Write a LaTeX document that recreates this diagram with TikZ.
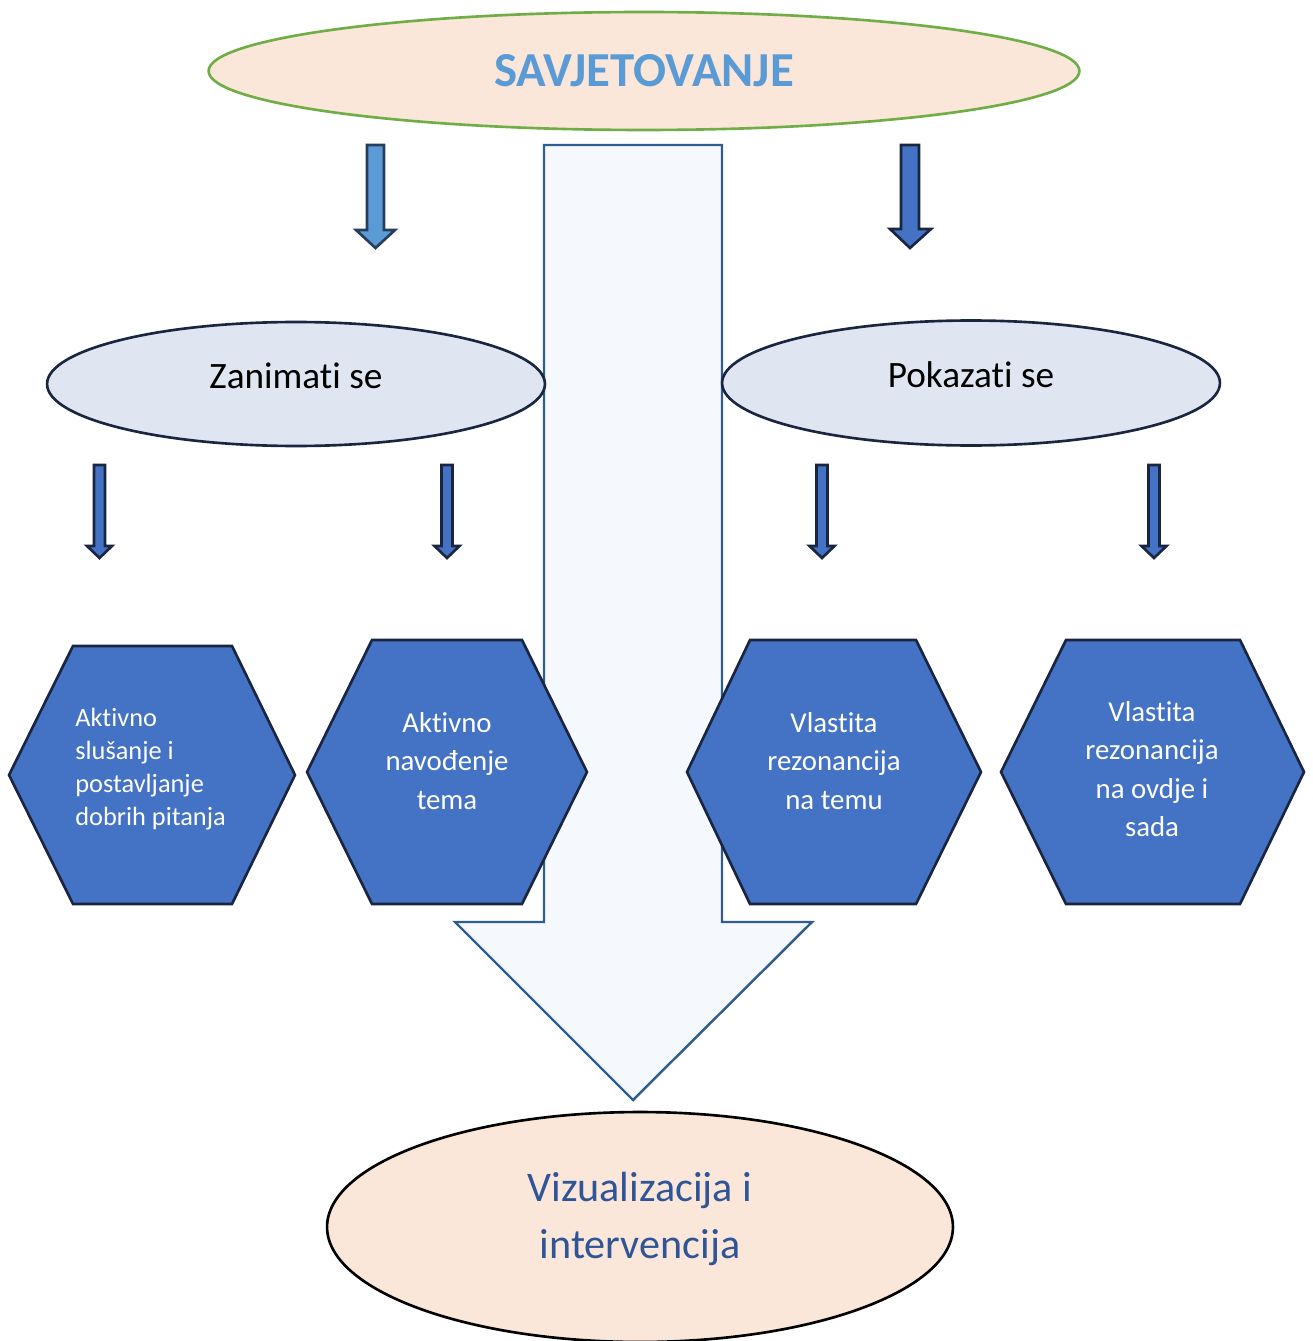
\documentclass[tikz,border=0pt]{standalone}
\usepackage{fontspec}
\setmainfont{Carlito}[Ligatures=NoCommon]
\usetikzlibrary{shapes.geometric}
\definecolor{peach}{HTML}{FBE7DA}
\definecolor{leafgreen}{HTML}{70AD47}
\definecolor{titleblue}{HTML}{5B9BD5}
\definecolor{paleblue}{HTML}{DFE6F1}
\definecolor{hexblue}{HTML}{4472C4}
\definecolor{darknavy}{HTML}{1A2540}
\definecolor{arrowedge}{HTML}{2E5E91}
\definecolor{arrowfill}{HTML}{F5F8FC}
\definecolor{textblue}{HTML}{2F5597}
\begin{document}
\begin{tikzpicture}[x=0.02cm, y=-0.02cm]
    \tikzstyle{bigarrow} = [draw=arrowedge, fill=arrowfill, line width=1.4pt]
    \tikzstyle{smallarrow} = [draw=darknavy, fill=hexblue, line width=1.5pt]
    \tikzstyle{hex} = [draw=darknavy, fill=hexblue, line width=1.5pt]
    \tikzstyle{oval} = [ellipse, inner sep=0pt, line width=1.5pt]
    \tikzstyle{hextext} = [text=white, align=center, inner sep=0pt,
        font=\fontsize{16.4}{21.8}\selectfont]

    \useasboundingbox (0,0) rectangle (1312,1341);

    % big arrow behind everything
    \draw[bigarrow] (544,145) -- (722,145) -- (722,922) -- (812,922)
        -- (633,1100) -- (455,922) -- (544,922) -- cycle;

    \node(savjetovanje) [oval, draw=leafgreen, fill=peach,
        minimum width=17.42cm, minimum height=2.36cm]
        at (644,71)
        {};
    \node(savjetovanjetext) [text=titleblue,
        font=\bfseries\fontsize{27.8}{32}\selectfont]
        at (644,71)
        {SAVJETOVANJE};

    \node(zanimati) [oval, draw=darknavy, fill=paleblue,
        minimum width=9.96cm, minimum height=2.48cm]
        at (296,384)
        {};
    \node(zanimatitext) [font=\fontsize{21.2}{25}\selectfont]
        at (296,376)
        {Zanimati se};
    \node(pokazati) [oval, draw=darknavy, fill=paleblue,
        minimum width=9.96cm, minimum height=2.5cm]
        at (971,383)
        {};
    \node(pokazatitext) [font=\fontsize{21.2}{25}\selectfont]
        at (971,375)
        {Pokazati se};

    % block arrows
    \draw[smallarrow, fill=titleblue, draw=darknavy!80!titleblue]
        (367,145) -- (384,145) -- (384,230) -- (395,230)
        -- (375.5,248) -- (356,230) -- (367,230) -- cycle;
    \draw[smallarrow] (901,145) -- (919,145) -- (919,229) -- (931,229)
        -- (910,248) -- (890,229) -- (901,229) -- cycle;

    \draw[smallarrow] (94,465) -- (105,465) -- (105,546) -- (112,546)
        -- (99.5,558) -- (87,546) -- (94,546) -- cycle;
    \draw[smallarrow] (441.5,465) -- (452.5,465) -- (452.5,546) -- (459.5,546)
        -- (447,558) -- (434.5,546) -- (441.5,546) -- cycle;
    \draw[smallarrow] (816.5,465) -- (827.5,465) -- (827.5,546) -- (834.5,546)
        -- (822,558) -- (809.5,546) -- (816.5,546) -- cycle;
    \draw[smallarrow] (1148.5,465) -- (1159.5,465) -- (1159.5,546) -- (1166.5,546)
        -- (1154,558) -- (1141.5,546) -- (1148.5,546) -- cycle;

    % hexagons
    \draw[hex] (9,775) -- (73,646) -- (232,646) -- (295,775)
        -- (232,904) -- (73,904) -- cycle;
    \draw[hex] (307,772) -- (372,640) -- (522,640) -- (587,772)
        -- (522,904) -- (372,904) -- cycle;
    \draw[hex] (687,772) -- (750,640) -- (916,640) -- (981,772)
        -- (916,904) -- (750,904) -- cycle;
    \draw[hex] (1001,772) -- (1066,640) -- (1240,640) -- (1304,772)
        -- (1240,904) -- (1066,904) -- cycle;

    \node(slusanje) [hextext, align=left,
        font=\fontsize{15}{18.7}\selectfont]
        at (75,769) [anchor=west]
        {Aktivno\\ slušanje i\\ postavljanje\\ dobrih pitanja};
    \node(navodenje) [hextext]
        at (447,761)
        {Aktivno\\ navođenje\\ tema};
    \node(rezonancijatema) [hextext]
        at (834,761)
        {Vlastita\\ rezonancija\\ na temu};
    \node(rezonancijasada) [hextext]
        at (1152,769)
        {Vlastita\\ rezonancija\\ na ovdje i\\ sada};

    \node(vizualizacija) [oval, draw=black, fill=peach,
        minimum width=12.52cm, minimum height=4.6cm]
        at (640,1227)
        {};
    \node(vizualizacijatext) [text=textblue, align=center,
        font=\fontsize{24}{32.3}\selectfont]
        at (640,1219)
        {Vizualizacija i\\ intervencija};
\end{tikzpicture}
\end{document}
